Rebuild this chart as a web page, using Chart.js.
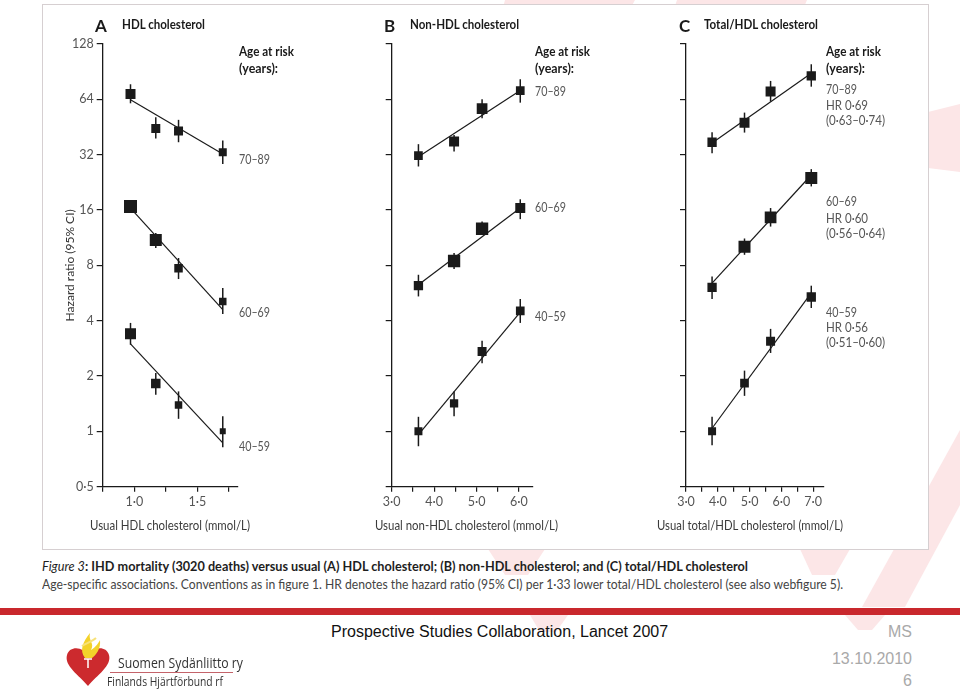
<!DOCTYPE html>
<html><head><meta charset="utf-8">
<script src="https://cdn.jsdelivr.net/npm/chart.js@4.4.1/dist/chart.umd.min.js"></script>
<style>
html,body{margin:0;padding:0;}
body{width:960px;height:692px;position:relative;overflow:hidden;background:#fff;font-family:Lato,"Open Sans",sans-serif;}
.abs{position:absolute;white-space:nowrap;line-height:1;}
#box{position:absolute;left:42px;top:4px;width:885px;height:544px;border:1px solid #d6cfd1;background:#fff;}
canvas{position:absolute;}
.plet{font-size:17px;font-weight:700;color:#1a1a1a;}
.ptitle{font-weight:700;font-size:12.5px;color:#1a1a1a;}
.age{font-weight:700;font-size:13px;color:#1a1a1a;}
.grp{font-size:13px;color:#555;}
.xt{font-size:13.5px;color:#3a3a3a;}
.cap1{font-size:13px;font-weight:700;color:#1e1e1e;}
.cap2{font-size:13px;color:#444;}
.foot{font-family:"Liberation Sans",Arial,sans-serif;font-size:16px;}
</style>
</head><body>

<svg width="960" height="692" style="position:absolute;left:0;top:0" xmlns="http://www.w3.org/2000/svg">
  <g fill="#fce6e7">
    <polygon points="505,0 635,0 565,130 470,130"/>
    <polygon points="677,0 807,0 760,110 640,110"/>
    <polygon points="928,112 960,104 960,172 928,168"/>
    <polygon points="862,607 905,607 960,505 960,430"/>
    <polygon points="488,549 545,549 528,575 505,575"/>
    <polygon points="800,549 850,549 835,575 812,575"/>
    <polygon points="530,615 568,615 556,632 540,632"/>
    <polygon points="845,615 885,615 872,630 858,630"/>
  </g>
</svg>

<div id="box"></div>

<canvas id="cA" width="316" height="515" style="left:44px;top:30px;width:316px;height:515px"></canvas>
<canvas id="cB" width="288" height="515" style="left:362px;top:30px;width:288px;height:515px"></canvas>
<canvas id="cC" width="270" height="515" style="left:656px;top:30px;width:270px;height:515px"></canvas>

<!-- axis titles -->
<div class="abs xt" style="left:90px;top:519px" data-w="160">Usual HDL cholesterol (mmol/L)</div>
<div class="abs xt" style="left:375px;top:519px" data-w="183">Usual non-HDL cholesterol (mmol/L)</div>
<div class="abs xt" style="left:657px;top:519px" data-w="186">Usual total/HDL cholesterol (mmol/L)</div>

<!-- panel A texts -->
<div class="abs plet" style="left:95px;top:17px">A</div>
<div class="abs ptitle" style="left:122px;top:19px" data-w="83">HDL cholesterol</div>
<div class="abs age" style="left:239px;top:45px" data-w="55">Age at risk</div>
<div class="abs age" style="left:239px;top:62px" data-w="39">(years):</div>
<div class="abs grp" style="left:239px;top:153px" data-w="31">70–89</div>
<div class="abs grp" style="left:239px;top:306px" data-w="31">60–69</div>
<div class="abs grp" style="left:239px;top:440px" data-w="31">40–59</div>

<!-- panel B texts -->
<div class="abs plet" style="left:384px;top:17px">B</div>
<div class="abs ptitle" style="left:410px;top:19px" data-w="109">Non-HDL cholesterol</div>
<div class="abs age" style="left:535px;top:45px" data-w="55">Age at risk</div>
<div class="abs age" style="left:535px;top:62px" data-w="39">(years):</div>
<div class="abs grp" style="left:535px;top:85px" data-w="31">70–89</div>
<div class="abs grp" style="left:535px;top:201px" data-w="31">60–69</div>
<div class="abs grp" style="left:535px;top:310px" data-w="31">40–59</div>

<!-- panel C texts -->
<div class="abs plet" style="left:679px;top:17px">C</div>
<div class="abs ptitle" style="left:704px;top:19px" data-w="114">Total/HDL cholesterol</div>
<div class="abs age" style="left:826px;top:45px" data-w="55">Age at risk</div>
<div class="abs age" style="left:826px;top:62px" data-w="39">(years):</div>
<div class="abs grp" style="left:826px;top:83px" data-w="31">70–89</div>
<div class="abs grp" style="left:826px;top:99px" data-w="42">HR 0·69</div>
<div class="abs grp" style="left:826px;top:114px" data-w="59">(0·63–0·74)</div>
<div class="abs grp" style="left:826px;top:195px" data-w="31">60–69</div>
<div class="abs grp" style="left:826px;top:212px" data-w="42">HR 0·60</div>
<div class="abs grp" style="left:826px;top:227px" data-w="59">(0·56–0·64)</div>
<div class="abs grp" style="left:826px;top:306px" data-w="31">40–59</div>
<div class="abs grp" style="left:826px;top:321px" data-w="42">HR 0·56</div>
<div class="abs grp" style="left:826px;top:336px" data-w="59">(0·51–0·60)</div>

<!-- caption -->
<div class="abs cap1" style="left:42px;top:560px" data-w="706"><i style="font-weight:400">Figure 3</i>: IHD mortality (3020 deaths) versus usual (A) HDL cholesterol; (B) non-HDL cholesterol; and (C) total/HDL cholesterol</div>
<div class="abs cap2" style="left:42px;top:578px" data-w="801">Age-specific associations. Conventions as in figure 1. HR denotes the hazard ratio (95% CI) per 1·33 lower total/HDL cholesterol (see also webfigure 5).</div>

<!-- footer -->
<div style="position:absolute;left:0;top:608px;width:960px;height:7px;background:#c9282d"></div>
<div class="abs foot" style="left:331px;top:624px;color:#111">Prospective Studies Collaboration, Lancet 2007</div>
<div class="abs foot" style="right:48px;top:624px;color:#a9a9a9">MS</div>
<div class="abs foot" style="right:48px;top:651px;color:#a9a9a9">13.10.2010</div>
<div class="abs foot" style="right:48px;top:673px;color:#a9a9a9">6</div>

<!-- logo -->
<svg width="960" height="692" style="position:absolute;left:0;top:0;pointer-events:none" xmlns="http://www.w3.org/2000/svg">
  <path d="M88,656 C84,647 70,645 67,655 C64,666 79,675 88,686 C97,675 112,666 109,655 C106,645 92,647 88,656 Z" fill="#cc2a2e"/>
  <path d="M85,658 C79,650 83,642 90,633 C88,641 95,643 91,650 C96,647 99,642 100,640 C101,649 96,655 92,658 Z" fill="#f3d22a"/>
  <path d="M82,646 C86,643 92,642 96,638" stroke="#f7e27a" stroke-width="2" fill="none"/>
  <path d="M84,659 L92,659 M88,659 L88,668" stroke="#fff" stroke-width="1.5"/>
  <line x1="110" y1="672.5" x2="233" y2="672.5" stroke="#c4636a" stroke-width="1"/>
</svg>
<div class="abs" style="left:118px;top:655px;font-family:'Open Sans',sans-serif;font-size:15px;color:#333" data-w="125">Suomen Sydänliitto ry</div>
<div class="abs" style="left:107px;top:676px;font-family:'Open Sans',sans-serif;font-size:12.5px;color:#333" data-w="116">Finlands Hjärtförbund rf</div>

<script>
// ---------- DATA ----------
const yTicks  = [0.5, 1, 2, 4, 8, 16, 32, 64, 128];
const yLabels = ['0·5', '1', '2', '4', '8', '16', '32', '64', '128'];

// Panel A: HDL cholesterol
const hdlX       = [0.97, 1.17, 1.35, 1.70];
const hdlTicks   = [0.75, 1.0, 1.25, 1.5, 1.75];
const hdlLabels  = ['', '1·0', '', '1·5', ''];
const hdl7089    = [68.5, 44.4, 43.1, 33.0];
const hdl7089Lo  = [60.9, 39.2, 37.4, 28.5];
const hdl7089Hi  = [77.3, 51.1, 49.5, 38.2];
const hdl7089Fit = [63.6, 32.3];
const hdl6069    = [16.7, 11.0, 7.72, 5.09];
const hdl6069Lo  = [15.5, 9.93, 6.74, 4.35];
const hdl6069Hi  = [17.9, 12.0, 8.77, 6.02];
const hdl6069Fit = [16.4, 4.59];
const hdl4059    = [3.40, 1.82, 1.39, 1.00];
const hdl4059Lo  = [2.96, 1.58, 1.17, 0.82];
const hdl4059Hi  = [3.89, 2.08, 1.65, 1.21];
const hdl4059Fit = [2.99, 0.866];

// Panel B: non-HDL cholesterol
const nonX       = [3.63, 4.47, 5.13, 6.03];
const nonTicks   = [3.0, 3.5, 4.0, 4.5, 5.0, 5.5, 6.0];
const nonLabels  = ['3·0', '', '4·0', '', '5·0', '', '6·0'];
const non7089    = [31.6, 37.7, 57.0, 71.4];
const non7089Lo  = [27.6, 33.3, 50.5, 61.4];
const non7089Hi  = [36.5, 41.0, 64.0, 82.3];
const non7089Fit = [31.2, 71.4];
const non6069    = [6.2, 8.45, 12.65, 16.4];
const non6069Lo  = [5.42, 7.64, 11.73, 14.27];
const non6069Hi  = [7.11, 9.33, 13.86, 18.3];
const non6069Fit = [6.27, 16.4];
const non4059    = [1.0, 1.42, 2.72, 4.52];
const non4059Lo  = [0.83, 1.21, 2.35, 3.89];
const non4059Hi  = [1.20, 1.65, 3.11, 5.25];
const non4059Fit = [0.96, 4.45];

// Panel C: total/HDL cholesterol
const totX       = [3.82, 4.84, 5.66, 6.94];
const totTicks   = [3.0, 3.5, 4.0, 4.5, 5.0, 5.5, 6.0, 6.5, 7.0];
const totLabels  = ['3·0', '', '4·0', '', '5·0', '', '6·0', '', '7·0'];
const tot7089    = [37.4, 47.8, 70.5, 85.8];
const tot7089Lo  = [32.6, 42.2, 62.2, 75.0];
const tot7089Hi  = [42.4, 54.2, 80.6, 99.3];
const tot7089Fit = [37.0, 88.7];
const tot6069    = [6.07, 10.1, 14.6, 23.9];
const tot6069Lo  = [5.25, 9.13, 13.0, 21.5];
const tot6069Hi  = [6.96, 11.2, 16.4, 26.7];
const tot6069Fit = [6.41, 24.8];
const tot4059    = [1.0, 1.83, 3.09, 5.38];
const tot4059Lo  = [0.84, 1.56, 2.67, 4.69];
const tot4059Hi  = [1.20, 2.14, 3.61, 6.20];
const tot4059Fit = [1.04, 5.66];

// ---------- STYLE (marker side lengths in px, per group) ----------
const MARK = {
  A: [[10, 9, 9, 8], [13, 12, 8.5, 7.5], [11, 9.5, 7.5, 6]],
  B: [[8.7, 10, 10.7, 8.7], [9.3, 12.3, 12.3, 10], [8, 8.3, 9, 8.7]],
  C: [[9.3, 10, 10, 9.3], [9.3, 12, 11.7, 12], [8, 8.7, 9, 9.3]]
};
const FONT = 'Lato, "Open Sans", sans-serif';
const INK = '#1a1a1a';

const errorBars = {
  id: 'errorBars',
  beforeDatasetsDraw(chart) {
    const {ctx, scales: {x, y}} = chart;
    ctx.save();
    ctx.strokeStyle = INK; ctx.lineWidth = 1.5;
    chart.data.datasets.forEach(d => {
      if (!d.errLo) return;
      d.data.forEach((p, i) => {
        const px = x.getPixelForValue(p.x);
        ctx.beginPath();
        ctx.moveTo(px, y.getPixelForValue(d.errLo[i]));
        ctx.lineTo(px, y.getPixelForValue(d.errHi[i]));
        ctx.stroke();
      });
    });
    ctx.restore();
  }
};

function makePanel(id, P) {
  const datasets = [];
  P.groups.forEach((g, gi) => {
    datasets.push({
      type: 'scatter', order: 0,
      data: P.xs.map((x, i) => ({x, y: g.hr[i]})),
      errLo: g.lo, errHi: g.hi,
      pointStyle: 'rect',
      pointRadius: P.marks[gi].map(s => s / Math.SQRT2),
      pointHoverRadius: P.marks[gi].map(s => s / Math.SQRT2),
      backgroundColor: INK, borderColor: INK, borderWidth: 0
    });
  });
  P.groups.forEach(g => {
    datasets.push({
      type: 'line', order: 1,
      data: [{x: P.xs[0], y: g.fit[0]}, {x: P.xs[P.xs.length - 1], y: g.fit[1]}],
      borderColor: INK, borderWidth: 1.2, pointRadius: 0, fill: false, tension: 0
    });
  });
  return new Chart(document.getElementById(id), {
    type: 'scatter',
    data: {datasets},
    plugins: [errorBars],
    options: {
      responsive: false, animation: false, devicePixelRatio: 1,
      layout: {padding: {left: 0, top: 14, right: P.padRight, bottom: 0}},
      plugins: {legend: {display: false}, tooltip: {enabled: false}},
      scales: {
        x: {
          type: 'linear', min: P.xmin, max: P.xmax,
          afterBuildTicks: s => { s.ticks = P.xticks.map(v => ({value: v})); },
          afterFit: s => { s.height = 58.3; s.paddingLeft = 0; s.paddingRight = 0; },
          ticks: {autoSkip: false, maxRotation: 0, padding: 3, color: '#555',
                  font: {family: FONT, size: 12.5}, callback: (v, i) => P.xlabels[i]},
          grid: {drawOnChartArea: false, drawTicks: true, tickLength: 5, color: INK, lineWidth: 1.2},
          border: {display: true, color: INK, width: 1.3},
          title: {display: false}
        },
        y: {
          type: 'logarithmic', min: 0.5, max: 128,
          afterBuildTicks: s => { s.ticks = yTicks.map(v => ({value: v})); },
          afterFit: s => { s.width = P.yw; s.paddingTop = 0; s.paddingBottom = 0; },
          ticks: {autoSkip: false, padding: 3, color: '#555', font: {family: FONT, size: 12.5},
                  callback: (v, i) => P.showY ? yLabels[i] : ''},
          grid: {drawOnChartArea: false, drawTicks: true, tickLength: 6, color: INK, lineWidth: 1.2},
          border: {display: true, color: INK, width: 1.3},
          title: {display: P.showY, text: 'Hazard ratio (95% CI)', color: '#333',
                  font: {family: FONT, size: 12}, padding: {top: 19, bottom: 0}}
        }
      }
    }
  });
}

makePanel('cA', {
  xs: hdlX, xmin: 0.75, xmax: 1.815, xticks: hdlTicks, xlabels: hdlLabels,
  yw: 58.7, padRight: 122.7, showY: true, marks: MARK.A,
  groups: [
    {hr: hdl7089, lo: hdl7089Lo, hi: hdl7089Hi, fit: hdl7089Fit},
    {hr: hdl6069, lo: hdl6069Lo, hi: hdl6069Hi, fit: hdl6069Fit},
    {hr: hdl4059, lo: hdl4059Lo, hi: hdl4059Hi, fit: hdl4059Fit}
  ]
});
makePanel('cB', {
  xs: nonX, xmin: 3.0, xmax: 6.33, xticks: nonTicks, xlabels: nonLabels,
  yw: 29.7, padRight: 117, showY: false, marks: MARK.B,
  groups: [
    {hr: non7089, lo: non7089Lo, hi: non7089Hi, fit: non7089Fit},
    {hr: non6069, lo: non6069Lo, hi: non6069Hi, fit: non6069Fit},
    {hr: non4059, lo: non4059Lo, hi: non4059Hi, fit: non4059Fit}
  ]
});
makePanel('cC', {
  xs: totX, xmin: 3.0, xmax: 7.34, xticks: totTicks, xlabels: totLabels,
  yw: 30, padRight: 102, showY: false, marks: MARK.C,
  groups: [
    {hr: tot7089, lo: tot7089Lo, hi: tot7089Hi, fit: tot7089Fit},
    {hr: tot6069, lo: tot6069Lo, hi: tot6069Hi, fit: tot6069Fit},
    {hr: tot4059, lo: tot4059Lo, hi: tot4059Hi, fit: tot4059Fit}
  ]
});

// fit text widths to the reference
document.querySelectorAll('[data-w]').forEach(el => {
  const w = el.getBoundingClientRect().width;
  const t = parseFloat(el.dataset.w);
  if (w > 0) { el.style.transformOrigin = 'left center'; el.style.transform = 'scaleX(' + (t / w) + ')'; }
});
</script>
</body></html>
